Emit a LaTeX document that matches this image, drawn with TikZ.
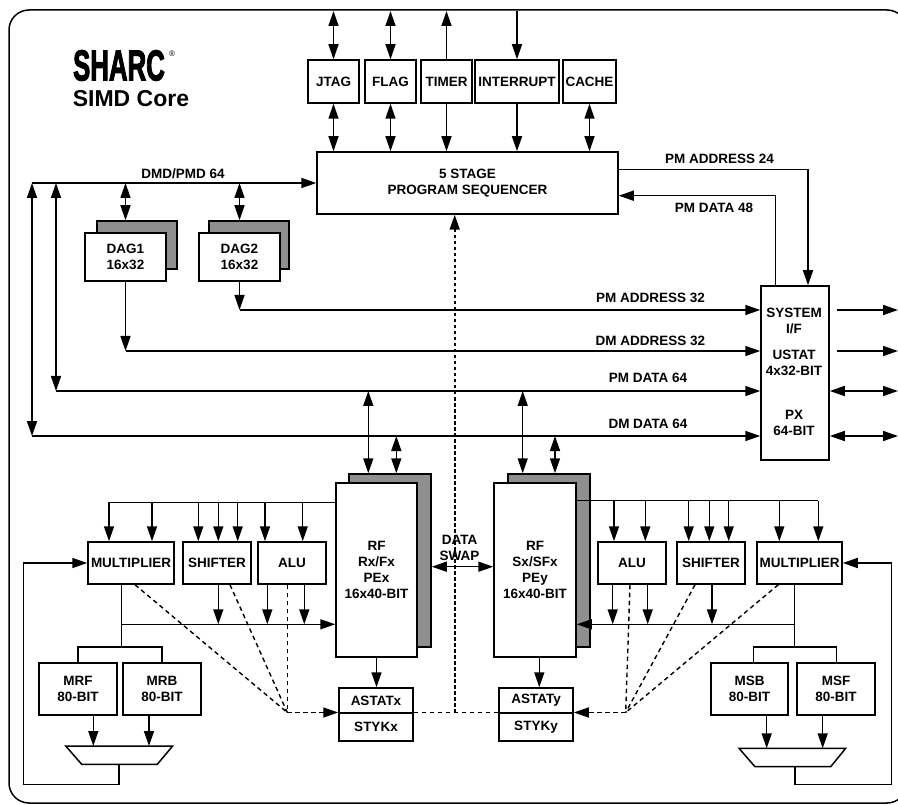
\documentclass[tikz,border=0pt]{standalone}
\usepackage{fontspec}
\setmainfont{Liberation Sans}
\newfontfamily\logofont{Liberation Sans}[UprightFeatures={FakeBold=3}, BoldFeatures={FakeBold=3}]
\usepackage{graphicx}
\usetikzlibrary{arrows.meta,calc}
\definecolor{shadowgray}{RGB}{143,143,143}
\tikzset{
  lbl/.style={font=\fontsize{13.5}{16}\selectfont\bfseries, inner sep=0pt, align=center},
  box/.style={lbl, draw, line width=1.5pt, fill=white},
  shbox/.style={draw, line width=1.5pt, fill=shadowgray, inner sep=0pt},
  conn/.style={line width=1.5pt},
  arr/.style={conn, -{Triangle[length=15pt,width=10pt]}},
  darr/.style={conn, {Triangle[length=15pt,width=10pt]}-{Triangle[length=15pt,width=10pt]}},
  dsh/.style={line width=1.4pt, dash pattern=on 4.5pt off 3.5pt},
  darrow/.style={dsh, -{Triangle[length=15pt,width=10pt]}},
  trap/.style={line width=1.5pt, fill=white},
}
\begin{document}
\begin{tikzpicture}[x=1pt,y=-1pt]
\useasboundingbox (0,0) rectangle (898,805);
\clip (0,0) rectangle (898,805);
\draw[line width=1.5pt, rounded corners=20pt] (9,10) rectangle (907,803);
\coordinate (topbus) at (0,11);

% logo
\node[inner sep=0pt] (logo) at (119,65.5) {\scalebox{0.6}[1]{\fontsize{43}{43}\selectfont\logofont\bfseries SHARC}};
\node[inner sep=0pt] (reg) at (172,54) {\fontsize{8}{8}\selectfont ®};
\node[inner sep=0pt, font=\fontsize{23}{23}\selectfont\bfseries] (simd) at (131,99) {SIMD Core};

% top boxes
\node[box, minimum width=51pt, minimum height=43pt] (jtag) at (333.5,81.5) {JTAG};
\node[box, minimum width=51pt, minimum height=43pt] (flag) at (390.5,81.5) {FLAG};
\node[box, minimum width=51pt, minimum height=43pt] (timer) at (446.5,81.5) {TIMER};
\node[box, minimum width=84pt, minimum height=43pt] (intr) at (517,81.5) {INTERRUPT};
\node[box, minimum width=53pt, minimum height=43pt] (cache) at (589.5,81.5) {CACHE};
\node[box, minimum width=301pt, minimum height=62pt] (seq) at (467.5,183) {5 STAGE\\PROGRAM SEQUENCER};

\draw[darr] (jtag.north) -- (jtag.north |- topbus);
\draw[darr] (jtag.south) -- (jtag.south |- seq.north);
\draw[darr] (flag.north) -- (flag.north |- topbus);
\draw[darr] (flag.south) -- (flag.south |- seq.north);
\draw[arr] (timer.north) -- (timer.north |- topbus);
\draw[arr] (timer.south) -- (timer.south |- seq.north);
\draw[arr] (intr.north |- topbus) -- (intr.north);
\draw[arr] (intr.south) -- (intr.south |- seq.north);
\draw[darr] (cache.south) -- (cache.south |- seq.north);

% system I/F
\node[box, minimum width=68pt, minimum height=174pt] (sysif) at (795,373) {};
\node[lbl] (sysifA) at (794,321) {SYSTEM\\I/F};
\node[lbl] (sysifB) at (794,362.5) {USTAT\\4x32-BIT};
\node[lbl] (sysifC) at (794,423) {PX\\64-BIT};

% DMD/PMD bus
\coordinate (dmdL) at (32,183);
\coordinate (pmL) at (56,391);
\coordinate (dmL) at (32,436);
\coordinate (pmA) at (0,310);
\coordinate (dmA) at (0,351);
\draw[arr] (dmdL) -- (dmdL -| seq.west);
\node[lbl] (dmdlbl) at (183,174) {DMD/PMD 64};
\draw[darr] (dmdL) -- (dmL);
\draw[darr] (dmdL -| pmL) -- (pmL);

% DAGs
\node[shbox, minimum width=80pt, minimum height=48pt] (dag1s) at (137,245) {};
\node[box, minimum width=81pt, minimum height=48pt] (dag1) at (125.5,257) {DAG1\\16x32};
\node[shbox, minimum width=80pt, minimum height=48pt] (dag2s) at (249,245) {};
\node[box, minimum width=81pt, minimum height=48pt] (dag2) at (239.5,257) {DAG2\\16x32};
\draw[darr] (dag1.north |- dmdL) -- (dag1.north |- dag1s.north);
\draw[darr] (dag2.north |- dmdL) -- (dag2.north |- dag2s.north);

\draw[arr] (dag2.south) -- (dag2.south |- pmA);
\draw[arr] (dag2.south |- pmA) -- (pmA -| sysif.west);
\draw[arr] (dag1.south) -- (dag1.south |- dmA);
\draw[arr] (dag1.south |- dmA) -- (dmA -| sysif.west);
\draw[arr] (pmL) -- (pmL -| sysif.west);
\draw[arr] (dmL) -- (dmL -| sysif.west);

\node[lbl] (lpa32) at (650.5,298.3) {PM ADDRESS 32};
\node[lbl] (lda32) at (650.5,340.7) {DM ADDRESS 32};
\node[lbl] (lpd64) at (648,377.7) {PM DATA 64};
\node[lbl] (ldd64) at (648,424.3) {DM DATA 64};

% sequencer <-> system I/F
\coordinate (pa24) at (808,169.3);
\coordinate (pd48) at (775.7,195.7);
\draw[arr] (seq.east |- pa24) -- (pa24) -- (pa24 |- sysif.north);
\draw[arr] (pd48 |- sysif.north) -- (pd48) -- (pd48 -| seq.east);
\node[lbl] (lpa24) at (719.5,159.3) {PM ADDRESS 24};
\node[lbl] (lpd48) at (714,208.3) {PM DATA 48};

% right edge outputs
\coordinate (redge) at (898,0);
\draw[arr] ($(sysif.east |- pmA)+(7,0)$) -- (redge |- pmA);
\draw[arr] ($(sysif.east |- dmA)+(7,0)$) -- (redge |- dmA);
\draw[darr] (sysif.east |- pmL) -- (redge |- pmL);
\draw[darr] (sysif.east |- dmL) -- (redge |- dmL);

% register files
\node[shbox, minimum width=82pt, minimum height=173pt] (rfxs) at (390,560.5) {};
\node[box, minimum width=81pt, minimum height=174pt] (rfx) at (376.5,570) {RF\\Rx/Fx\\PEx\\16x40-BIT};
\node[shbox, minimum width=82pt, minimum height=173pt] (rfys) at (549,560.5) {};
\node[box, minimum width=82pt, minimum height=174pt] (rfy) at (535,570) {RF\\Sx/SFx\\PEy\\16x40-BIT};

\coordinate (c1) at (368.3,0);
\coordinate (c2) at (396.3,0);
\coordinate (c3) at (522.7,0);
\coordinate (c4) at (555,0);
\draw[darr] (c1 |- pmL) -- (c1 |- rfxs.north);
\draw[darr] (c2 |- dmL) -- (c2 |- rfxs.north);
\draw[darr] (c3 |- pmL) -- (c3 |- rfys.north);
\draw[darr] (c4 |- dmL) -- (c4 |- rfys.north);

% data swap
\coordinate (swap) at (0,566.7);
\draw[darr] (rfxs.east |- swap) -- (rfy.west |- swap);
\node[lbl] (swaplbl) at (459.5,548) {DATA\\SWAP};

% ASTAT / STKY
\node[box, minimum width=74pt, minimum height=25pt] (astx) at (376,700.5) {ASTATx};
\node[box, minimum width=74pt, minimum height=28pt] (styx) at (376,727) {STYKx};
\node[box, minimum width=74pt, minimum height=25pt] (asty) at (536,700.5) {ASTATy};
\node[box, minimum width=74pt, minimum height=28pt] (styy) at (536,727) {STYKy};
\draw[arr] (rfx.south) -- (rfx.south |- astx.north);
\coordinate (c5) at (539.3,0);
\draw[arr] (c5 |- rfy.south) -- (c5 |- asty.north);

% left PE
\node[box, minimum width=86pt, minimum height=42pt] (mulx) at (131,563) {MULTIPLIER};
\node[box, minimum width=68pt, minimum height=42pt] (shx) at (217,563) {SHIFTER};
\node[box, minimum width=68pt, minimum height=42pt] (alux) at (292,563) {ALU};
\coordinate (busx) at (109,502.3);
\draw[conn] (rfx.west |- busx) -- (busx);
\foreach \i/\xx in {1/109,2/152,3/198.3,4/218.3,5/237.7,6/265,7/302.7}{
  \coordinate (lx\i) at (\xx,0);
  \draw[arr] (lx\i |- busx) -- (lx\i |- mulx.north);
}
\coordinate (outbus) at (0,624.3);
\coordinate (mxo) at (121.7,647);
\draw[conn] (mxo |- mulx.south) -- (mxo);
\draw[arr] (mxo |- outbus) -- (rfx.west |- outbus);
\coordinate (lo1) at (218.3,0);
\coordinate (lo2) at (267.3,0);
\coordinate (lo3) at (304.3,0);
\draw[arr] (lo1 |- shx.south) -- (lo1 |- outbus);
\draw[arr] (lo2 |- alux.south) -- (lo2 |- outbus);
\draw[arr] (lo3 |- alux.south) -- (lo3 |- outbus);

\node[box, minimum width=78pt, minimum height=52pt] (mrf) at (78,689) {MRF\\80-BIT};
\node[box, minimum width=78pt, minimum height=52pt] (mrb) at (162,689) {MRB\\80-BIT};
\draw[conn] (mrf.north) -- (mrf.north |- mxo) -- (mrb.north |- mxo) -- (mrb.north);
\draw[trap] (65.7,746) -- (172.7,746) -- (157.3,764.3) -- (81.7,764.3) -- cycle;
\coordinate (trapLtop) at (119,746);
\coordinate (trapLbot) at (119,764.3);
\coordinate (tl1) at (93.3,0);
\coordinate (tl2) at (149,0);
\draw[arr] (tl1 |- mrf.south) -- (tl1 |- trapLtop);
\draw[arr] (tl2 |- mrb.south) -- (tl2 |- trapLtop);
\coordinate (fbL) at (23.3,784.3);
\draw[arr] (trapLbot) -- (trapLbot |- fbL) -- (fbL) -- (fbL |- mulx.west) -- (mulx.west);

% right PE
\node[box, minimum width=68pt, minimum height=42pt] (aluy) at (632,563) {ALU};
\node[box, minimum width=68pt, minimum height=42pt] (shy) at (711,563) {SHIFTER};
\node[box, minimum width=85pt, minimum height=42pt] (muly) at (799.5,563) {MULTIPLIER};
\coordinate (busy) at (818.3,500.7);
\draw[conn] (rfy.east |- busy) -- (busy);
\foreach \i/\xx in {1/614,2/645.3,3/688.7,4/709.3,5/728.7,6/779.3,7/818.3}{
  \coordinate (rx\i) at (\xx,0);
  \draw[arr] (rx\i |- busy) -- (rx\i |- aluy.north);
}
\coordinate (myo) at (794.3,647);
\draw[conn] (myo |- muly.south) -- (myo);
\draw[arr] (myo |- outbus) -- (rfy.east |- outbus);
\coordinate (ro1) at (612.7,0);
\coordinate (ro2) at (647.7,0);
\coordinate (ro3) at (712,0);
\draw[arr] (ro1 |- aluy.south) -- (ro1 |- outbus);
\draw[arr] (ro2 |- aluy.south) -- (ro2 |- outbus);
\draw[arr] (ro3 |- shy.south) -- (ro3 |- outbus);

\node[box, minimum width=77pt, minimum height=52pt] (msb) at (749.5,689) {MSB\\80-BIT};
\node[box, minimum width=78pt, minimum height=52pt] (msf) at (836,689) {MSF\\80-BIT};
\coordinate (msbc) at (753.3,0);
\coordinate (msfc) at (836.7,0);
\draw[conn] (msbc |- msb.north) -- (msbc |- myo) -- (msfc |- myo) -- (msfc |- msf.north);
\draw[trap] (739,748.3) -- (845.7,748.3) -- (830.7,766.7) -- (755,766.7) -- cycle;
\coordinate (trapRtop) at (795,748.3);
\coordinate (trapRbot) at (795,766.7);
\coordinate (tr1) at (766.7,0);
\coordinate (tr2) at (822.7,0);
\draw[arr] (tr1 |- msb.south) -- (tr1 |- trapRtop);
\draw[arr] (tr2 |- msf.south) -- (tr2 |- trapRtop);
\coordinate (fbR) at (891.7,784.3);
\draw[arr] (trapRbot) -- (trapRbot |- fbR) -- (fbR) -- (fbR |- muly.east) -- (muly.east);

% dashed status lines
\coordinate (cL) at (287.3,712.5);
\coordinate (dl1) at (135,0);
\coordinate (dl2) at (230,0);
\coordinate (dl3) at (287.3,0);
\draw[dsh] (dl1 |- mulx.south) -- (cL);
\draw[dsh] (dl2 |- shx.south) -- (cL);
\draw[dsh] (dl3 |- alux.south) -- (cL);
\draw[darrow] (cL) -- (cL -| astx.west);

\coordinate (cR) at (625.7,712.5);
\coordinate (dr1) at (630,0);
\coordinate (dr2) at (695,0);
\coordinate (dr3) at (778.3,0);
\draw[dsh] (dr1 |- aluy.south) -- (cR);
\draw[dsh] (dr2 |- shy.south) -- (cR);
\draw[dsh] (dr3 |- muly.south) -- (cR);
\draw[darrow] (cR) -- (cR -| asty.east);

\draw[dsh] (cL -| astx.east) -- (cL -| asty.west);
\coordinate (mid) at (454.7,712.5);
\draw[darrow, dash pattern=on 3.5pt off 2.5pt, line width=1.8pt] (mid) -- (mid |- seq.south);
\end{tikzpicture}
\end{document}
